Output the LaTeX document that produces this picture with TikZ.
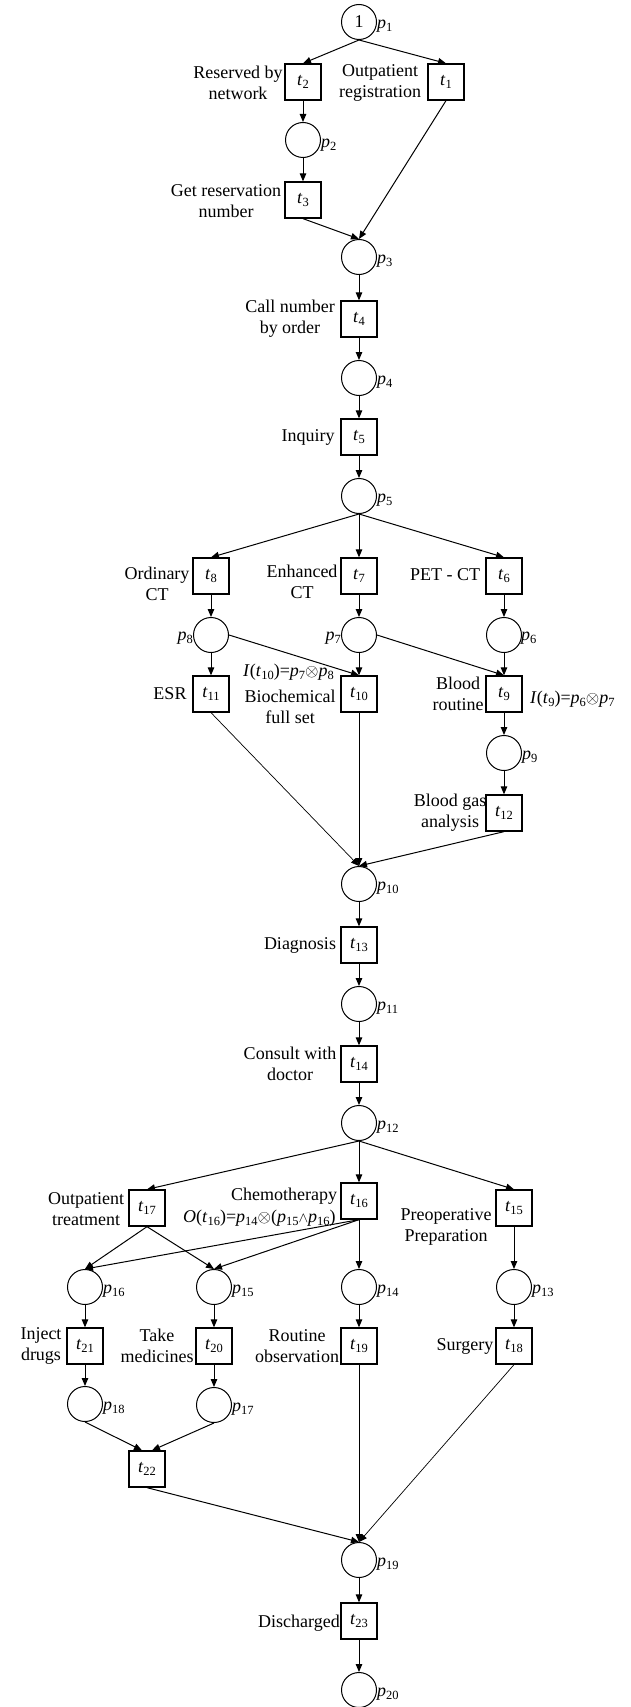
\documentclass[tikz,border=0pt]{standalone}
\usepackage{fontspec}
\setmainfont{Liberation Serif}
\usetikzlibrary{arrows.meta}
\newcommand{\sbx}[1]{\raisebox{-0.35ex}{\fontsize{12.5}{12.5}\selectfont #1}}
\newcommand{\pp}[1]{\textit{p}\sbx{#1}}
\newcommand{\tn}[1]{\textit{t}\sbx{#1}}
\newcommand{\otm}{{\fontsize{16}{16}\selectfont$\otimes$}}
\newcommand{\wdg}{{\fontsize{15}{15}\selectfont$\wedge$}}
\begin{document}
\begin{tikzpicture}[x=1pt,y=-1pt,
  place/.style={circle, draw, line width=1pt, minimum size=35pt, inner sep=0pt, font=\fontsize{18}{21}\selectfont},
  trans/.style={rectangle, draw, line width=1.3pt, minimum size=36pt, inner sep=0pt, font=\fontsize{18}{21}\selectfont},
  lbl/.style={font=\fontsize{18}{21}\selectfont, align=center, inner sep=0pt},
  plbl/.style={font=\fontsize{18}{21}\selectfont, inner sep=0pt, anchor=west},
  plbll/.style={font=\fontsize{18}{21}\selectfont, inner sep=0pt, anchor=east},
  arc/.style={-{Triangle[length=8pt,width=6.5pt]}, line width=1pt},
  thinarc/.style={-{Triangle[length=8pt,width=6.5pt]}, line width=0.7pt}]
\useasboundingbox (0,0) rectangle (630,1707);

% places
\node[place] (p1) at (359,22) {1};
\node[place] (p2) at (303,140) {};
\node[place] (p3) at (359,257) {};
\node[place] (p4) at (359,378) {};
\node[place] (p5) at (359,496) {};
\node[place] (p8) at (211,635) {};
\node[place] (p7) at (359,635) {};
\node[place] (p6) at (504,635) {};
\node[place] (p9) at (504,753) {};
\node[place] (p10) at (359,884) {};
\node[place] (p11) at (359,1004) {};
\node[place] (p12) at (359,1123) {};
\node[place] (p16) at (85,1287) {};
\node[place] (p15) at (214,1287) {};
\node[place] (p14) at (359,1287) {};
\node[place] (p13) at (514,1287) {};
\node[place] (p18) at (85,1404) {};
\node[place] (p17) at (214,1405) {};
\node[place] (p19) at (359,1560) {};
\node[place] (p20) at (359,1690) {};

% transitions
\node[trans] (t2) at (303,82) {\tn{2}};
\node[trans] (t1) at (446,82) {\tn{1}};
\node[trans] (t3) at (303,200) {\tn{3}};
\node[trans] (t4) at (359,319) {\tn{4}};
\node[trans] (t5) at (359,437) {\tn{5}};
\node[trans] (t8) at (211,576) {\tn{8}};
\node[trans] (t7) at (359,576) {\tn{7}};
\node[trans] (t6) at (504,576) {\tn{6}};
\node[trans] (t11) at (211,694) {\tn{11}};
\node[trans] (t10) at (359,694) {\tn{10}};
\node[trans] (t9) at (504,694) {\tn{9}};
\node[trans] (t12) at (504,813) {\tn{12}};
\node[trans] (t13) at (359,945) {\tn{13}};
\node[trans] (t14) at (359,1064) {\tn{14}};
\node[trans] (t17) at (147,1208) {\tn{17}};
\node[trans] (t16) at (359,1201) {\tn{16}};
\node[trans] (t15) at (514,1208) {\tn{15}};
\node[trans] (t21) at (85,1346) {\tn{21}};
\node[trans] (t20) at (214,1346) {\tn{20}};
\node[trans] (t19) at (359,1346) {\tn{19}};
\node[trans] (t18) at (514,1346) {\tn{18}};
\node[trans] (t22) at (147,1469) {\tn{22}};
\node[trans] (t23) at (359,1621) {\tn{23}};

% place labels
\node[plbl] (lp1) at (377,26) {\pp{1}};
\node[plbl] (lp2) at (321,145) {\pp{2}};
\node[plbl] (lp3) at (377,261) {\pp{3}};
\node[plbl] (lp4) at (377,382) {\pp{4}};
\node[plbl] (lp5) at (377,500) {\pp{5}};
\node[plbll] (lp8) at (193,638) {\pp{8}};
\node[plbll] (lp7) at (341,638) {\pp{7}};
\node[plbl] (lp6) at (521,638) {\pp{6}};
\node[plbl] (lp9) at (522,757) {\pp{9}};
\node[plbl] (lp10) at (377,888) {\pp{10}};
\node[plbl] (lp11) at (377,1008) {\pp{11}};
\node[plbl] (lp12) at (377,1127) {\pp{12}};
\node[plbl] (lp16) at (103,1291) {\pp{16}};
\node[plbl] (lp15) at (232,1291) {\pp{15}};
\node[plbl] (lp14) at (377,1291) {\pp{14}};
\node[plbl] (lp13) at (532,1291) {\pp{13}};
\node[plbl] (lp18) at (103,1408) {\pp{18}};
\node[plbl] (lp17) at (232,1409) {\pp{17}};
\node[plbl] (lp19) at (377,1564) {\pp{19}};
\node[plbl] (lp20) at (377,1694) {\pp{20}};

% text labels
\node[lbl] (lt2) at (238,83) {Reserved by\\network};
\node[lbl] (lt1) at (380,83) {Outpatient\\registration};
\node[lbl] (lt3) at (226,201) {Get reservation\\number};
\node[lbl] (lt4) at (290,319) {Call number\\by order};
\node[lbl] (lt5) at (308,437) {Inquiry};
\node[lbl] (lt8) at (157,584) {Ordinary\\CT};
\node[lbl] (lt7) at (302,582) {Enhanced\\CT};
\node[lbl] (lt6) at (445,575) {PET - CT};
\node[lbl] (lt11) at (170,694) {ESR};
\node[lbl] (lt10) at (290,707) {Biochemical\\full set};
\node[lbl] (lt9) at (458,694) {Blood\\routine};
\node[lbl, anchor=west] (ft10) at (243,672) {\textit{I}(\tn{10})=\pp{7}\otm\pp{8}};
\node[lbl, anchor=west] (ft9) at (530,699) {\textit{I}(\tn{9})=\pp{6}\otm\pp{7}};
\node[lbl] (lt12) at (450,813) {Blood gas\\analysis};
\node[lbl] (lt13) at (300,945) {Diagnosis};
\node[lbl] (lt14) at (290,1064) {Consult with\\doctor};
\node[lbl] (lt17) at (86,1209) {Outpatient\\treatment};
\node[lbl] (lt16) at (284,1196) {Chemotherapy};
\node[lbl, anchor=west] (ft16) at (183,1218) {\textit{O}(\tn{16})=\pp{14}\otm(\pp{15}\wdg\pp{16})};
\node[lbl] (lt15) at (446,1227) {Preoperative\\Preparation};
\node[lbl] (lt21) at (41,1346) {Inject\\drugs};
\node[lbl] (lt20) at (157,1346) {Take\\medicines};
\node[lbl] (lt19) at (297,1346) {Routine\\observation};
\node[lbl] (lt18) at (465,1346) {Surgery};
\node[lbl] (lt23) at (299,1623) {Discharged};

% arcs
\draw[arc] (p1.south) -- (t2.north);
\draw[arc] (p1.south) -- (t1.north);
\draw[arc] (t2) -- (p2);
\draw[arc] (p2) -- (t3);
\draw[arc] (t3.south) -- (p3.north);
\draw[arc] (t1.south) -- (p3.north);
\draw[arc] (p3) -- (t4);
\draw[arc] (t4) -- (p4);
\draw[arc] (p4) -- (t5);
\draw[arc] (t5) -- (p5);
\draw[arc] (p5.south) -- (t8.north);
\draw[arc] (p5) -- (t7);
\draw[arc] (p5.south) -- (t6.north);
\draw[arc] (t8) -- (p8);
\draw[arc] (t7) -- (p7);
\draw[arc] (t6) -- (p6);
\draw[arc] (p8) -- (t11);
\draw[arc] (p7) -- (t10);
\draw[arc] (p6) -- (t9);
\draw[arc] (p8.east) -- (t10.north);
\draw[arc] (p7.east) -- (t9.north);
\draw[arc] (t9) -- (p9);
\draw[arc] (p9) -- (t12);
\draw[thinarc] (t11.south) -- (p10.north);
\draw[arc] (t10) -- (p10);
\draw[arc] (t12.south) -- (p10.north);
\draw[arc] (p10) -- (t13);
\draw[arc] (t13) -- (p11);
\draw[arc] (p11) -- (t14);
\draw[arc] (t14) -- (p12);
\draw[arc] (p12.south) -- (t17.north);
\draw[arc] (p12) -- (t16);
\draw[arc] (p12.south) -- (t15.north);
\draw[arc] (t17.south) -- (p16.north);
\draw[arc] (t17.south) -- (p15.north);
\draw[arc] (t16.south) -- (p16.north);
\draw[arc] (t16.south) -- (p15.north);
\draw[arc] (t16) -- (p14);
\draw[arc] (t15) -- (p13);
\draw[arc] (p16) -- (t21);
\draw[arc] (p15) -- (t20);
\draw[arc] (p14) -- (t19);
\draw[arc] (p13) -- (t18);
\draw[arc] (t21) -- (p18);
\draw[arc] (t20) -- (p17);
\draw[arc] (p18.south) -- ([xshift=-5pt]t22.north);
\draw[arc] (p17.south) -- ([xshift=5pt]t22.north);
\draw[arc] (t22.south) -- (p19.north);
\draw[arc] (t19) -- (p19);
\draw[thinarc] (t18.south) -- (p19.north);
\draw[arc] (p19) -- (t23);
\draw[arc] (t23) -- (p20);
\end{tikzpicture}
\end{document}
